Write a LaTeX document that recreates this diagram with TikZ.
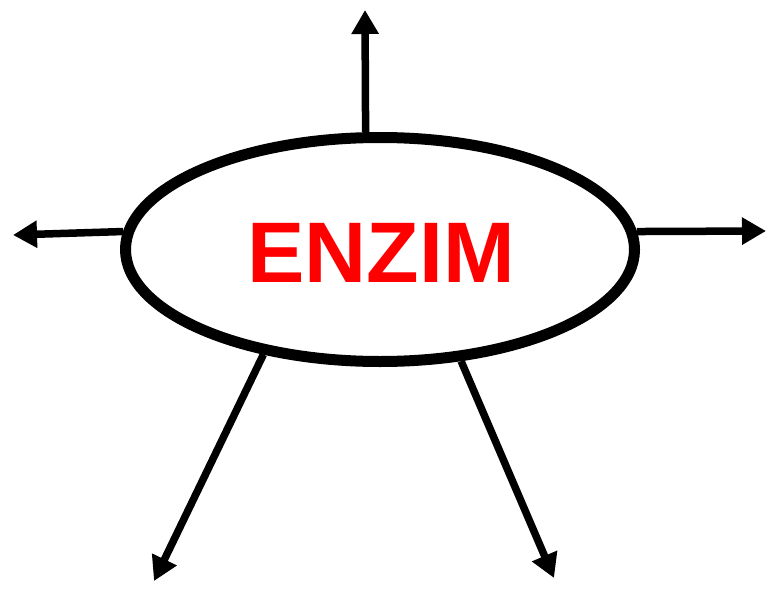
\documentclass[tikz,border=0pt]{standalone}
\usepackage{fontspec}
\setmainfont{Liberation Sans}
\usetikzlibrary{arrows.meta,shapes.geometric}
\begin{document}
\begin{tikzpicture}[x=1pt,y=-1pt,
  ring/.style={ellipse,draw=black,line width=11pt,minimum width=509pt,minimum height=224pt,inner sep=0pt},
  arr/.style={line width=7.5pt,-{Triangle[length=24pt,width=26pt]}},
  lbl/.style={text=red,font=\fontsize{86}{86}\selectfont\bfseries,inner sep=0pt,anchor=base}]
\useasboundingbox (0,0) rectangle (768,591);
\node[ring] (e) at (380,249.5) {};
\node[lbl] (t) at (381,282) {ENZIM};
\coordinate (up) at (365,10);
\coordinate (lt) at (13,235);
\coordinate (rt) at (766,231);
\coordinate (dl) at (154,581);
\coordinate (dr) at (554,578);
\draw[arr] (e.97.4) -- (up);
\draw[arr] (e.176.7) -- (lt);
\draw[arr] (e.4.2) -- (rt);
\draw[arr] (e.222.4) -- (dl);
\draw[arr] (e.-54.4) -- (dr);
\end{tikzpicture}
\end{document}
